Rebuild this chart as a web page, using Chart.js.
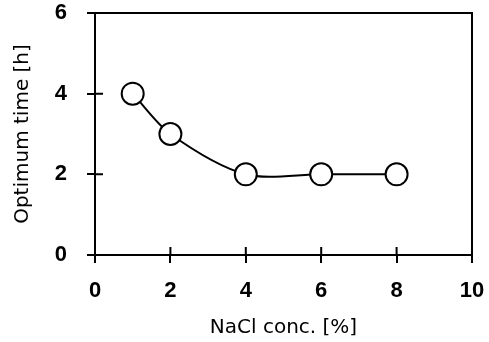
<!DOCTYPE html>
<html>
<head>
<meta charset="utf-8">
<script src="https://cdn.jsdelivr.net/npm/chart.js@4.4.1/dist/chart.umd.min.js"></script>
<style>
  html, body { margin: 0; padding: 0; background: #fff; }
  #wrap { width: 489px; height: 342px; }
</style>
</head>
<body>
<div id="wrap"><canvas id="optChart"></canvas></div>
<script>
const nacl = [1, 2, 4, 6, 8];
const optTime = [4, 3, 2, 2, 2];
const xTicks = [0, 2, 4, 6, 8, 10];
const yTicks = [0, 2, 4, 6];

const ctx = document.getElementById('optChart');
var black = '#000000';

// box round the plot area and the inner half of each tick
const frame = {
    id: 'frame',
    afterDatasetsDraw(chart) {
        const c = chart.ctx;
        const a = chart.chartArea;
        const xs = chart.scales.x, ys = chart.scales.y;
        c.save();
        c.strokeStyle = black;
        c.lineWidth = 2;
        c.strokeRect(a.left, a.top, a.right - a.left, a.bottom - a.top);
        c.beginPath();
        xTicks.forEach(v => {
            const px = xs.getPixelForValue(v);
            c.moveTo(px, a.bottom);
            c.lineTo(px, a.bottom - 8);
        });
        yTicks.forEach(v => {
            const py = ys.getPixelForValue(v);
            c.moveTo(a.left, py);
            c.lineTo(a.left + 8, py);
        });
        c.stroke();
        c.restore();
    }
};

// no extra room for overhanging labels, the layout padding covers it
function noPad(s) {
    s.paddingTop = 0;
    s.paddingBottom = 0;
    s.paddingLeft = 0;
    s.paddingRight = 0;
}

new Chart(ctx, {
    type: 'line',
    data: {
        datasets: [{
            data: nacl.map((x, i) => ({x: x, y: optTime[i]})),
            borderColor: black,
            borderWidth: 2,
            tension: 0.3,
            pointRadius: 11,
            pointHoverRadius: 11,
            pointBackgroundColor: '#ffffff',
            pointBorderColor: black,
            pointBorderWidth: 2,
            fill: false
        }]
    },
    options: {
        responsive: true,
        maintainAspectRatio: false,
        animation: false,
        layout: { padding: { top: 12, right: 17, left: 0, bottom: 0 } },
        plugins: {
            legend: { display: false },
            tooltip: { enabled: false }
        },
        scales: {
            x: {
                type: 'linear',
                min: 0,
                max: 10,
                afterBuildTicks: s => { s.ticks = xTicks.map(v => ({value: v})); },
                afterFit: s => { s.height = 87; noPad(s); },
                grid: { drawOnChartArea: false, tickLength: 8, color: black, lineWidth: 2 },
                border: { color: black, width: 2 },
                ticks: {
                    color: black,
                    padding: 15,
                    maxRotation: 0,
                    font: { family: 'Liberation Sans', size: 22, weight: 'bold' }
                },
                title: {
                    display: true,
                    text: 'NaCl conc. [%]',
                    color: black,
                    padding: { top: 0, bottom: 2 },
                    font: { family: 'DejaVu Sans', size: 20 }
                }
            },
            y: {
                min: 0,
                max: 6,
                afterBuildTicks: s => { s.ticks = yTicks.map(v => ({value: v})); },
                afterFit: s => { s.width = 95; noPad(s); },
                grid: { drawOnChartArea: false, tickLength: 8, color: black, lineWidth: 2 },
                border: { color: black, width: 2 },
                ticks: {
                    color: black,
                    padding: 20,
                    font: { family: 'Liberation Sans', size: 22, weight: 'bold' }
                },
                title: {
                    display: true,
                    text: 'Optimum time [h]',
                    color: black,
                    padding: { top: 11, bottom: 0 },
                    font: { family: 'DejaVu Sans', size: 20 }
                }
            }
        }
    },
    plugins: [frame]
});
</script>
</body>
</html>
